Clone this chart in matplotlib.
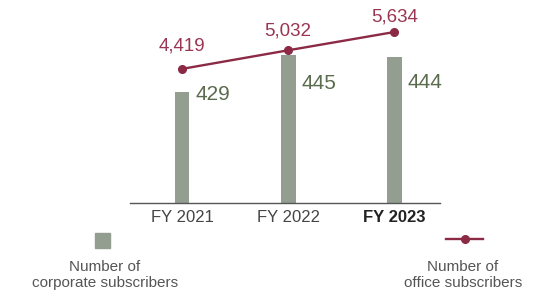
import matplotlib.pyplot as plt
from matplotlib.patches import Rectangle
from matplotlib.lines import Line2D

plt.rcParams['font.family'] = ['Liberation Sans', 'DejaVu Sans']

# data
years = ['FY 2021', 'FY 2022', 'FY 2023']
corporate = [429, 445, 444]
office = [4419, 5032, 5634]

# label offsets (points) as laid out in the original
bar_lbl_dy = [-2.2, -21, -18.5]
line_lbl_dy = [16.3, 14, 10.8]

bar_color = '#939e90'
line_color = '#8c2a45'
bar_text = '#5b6b4e'
line_text = '#9a3553'

W, H = 550, 297
fig = plt.figure(figsize=(5.5, 2.97), dpi=100)
ax = fig.add_axes([130 / W, 94 / H, 310 / W, 183 / H])
ax2 = ax.twinx()

x = list(range(len(years)))
ax.bar(x, corporate, width=0.14, color=bar_color, zorder=2)
ax.set_ylim(381, 460)
ax.set_xlim(-0.49, 2.43)

ax2.plot(x, office, color=line_color, lw=1.7, marker='o', ms=5.5, zorder=3)
ax2.set_ylim(0, 6030)

for xi, v, dy in zip(x, corporate, bar_lbl_dy):
    ax.annotate(f'{v:,}', (xi + 0.07, v), xytext=(4, dy), textcoords='offset points',
                ha='left', va='center', fontsize=15, color=bar_text)
for xi, v, dy in zip(x, office, line_lbl_dy):
    ax2.annotate(f'{v:,}', (xi, v), xytext=(0, dy), textcoords='offset points',
                 ha='center', va='center', fontsize=13.5, color=line_text)

for a in (ax, ax2):
    for s in ('top', 'right', 'left'):
        a.spines[s].set_visible(False)
    a.set_yticks([])
ax2.spines['bottom'].set_visible(False)
ax.spines['bottom'].set_color('#555555')
ax.spines['bottom'].set_linewidth(1)

ax.set_xticks(x)
ax.set_xticklabels(years, fontsize=12, color='#444444')
ax.tick_params(axis='x', length=0, pad=5)
ax.get_xticklabels()[-1].set_fontweight('bold')
ax.get_xticklabels()[-1].set_color('#222222')

# legend
fig.add_artist(Rectangle((95 / W, 1 - 248 / H), 15 / W, 15 / H,
                         transform=fig.transFigure, color=bar_color))
fig.text(105 / W, 1 - 275 / H, 'Number of\ncorporate subscribers', ha='center', va='center',
         fontsize=11, color='#555555', linespacing=1.25)
fig.add_artist(Line2D([446 / W, 483 / W], [1 - 239 / H, 1 - 239 / H], transform=fig.transFigure,
                      color=line_color, lw=1.7))
fig.add_artist(Line2D([464.5 / W], [1 - 239 / H], transform=fig.transFigure,
                      color=line_color, marker='o', ms=5.5))
fig.text(463 / W, 1 - 275 / H, 'Number of\noffice subscribers', ha='center', va='center',
         fontsize=11, color='#555555', linespacing=1.25)

fig.savefig('out.png', dpi=100)
